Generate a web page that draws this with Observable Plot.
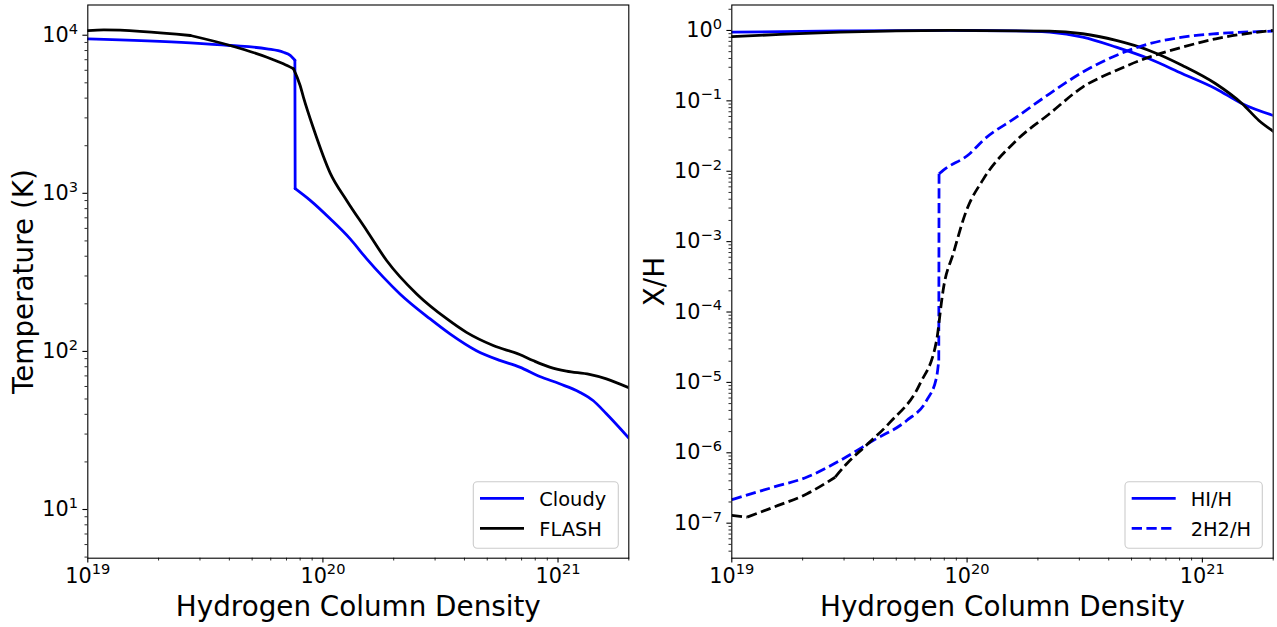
<!DOCTYPE html>
<html>
<head>
<meta charset="utf-8">
<script src="https://cdn.jsdelivr.net/npm/d3@7"></script>
<script src="https://cdn.jsdelivr.net/npm/@observablehq/plot@0.6"></script>
<style>
  html, body { margin: 0; padding: 0; background: #fff; }
  #wrap { position: relative; width: 1277px; height: 627px; background: #fff; font-family: "DejaVu Sans", sans-serif; }
  #wrap > .panel { position: absolute; top: 0; }
  #legends { position: absolute; left: 0; top: 0; pointer-events: none; }
</style>
</head>
<body>
<div id="wrap">
  <div class="panel" id="left" style="left:0px"></div>
  <div class="panel" id="right" style="left:640px"></div>
</div>
<script>
// ---------- data ----------
// Left panel: temperature vs hydrogen column density
const cloudyTempN = [1e19, 2.73e19, 4.03e19, 5.78e19, 6.79e19, 7.26e19, 7.50e19, 7.60e19, 7.62e19, 8.83e19, 1.074e20, 1.306e20, 1.536e20, 1.806e20, 2.127e20, 2.85e20, 3.47e20, 4.50e20, 5.65e20, 6.87e20, 8.36e20, 1.016e21, 1.236e21, 1.409e21, 1.606e21, 2e21];
const cloudyTemp  = [9490, 8950, 8610, 8200, 7800, 7450, 7100, 6950, 1070, 902, 690, 515, 385, 295, 231, 161, 129, 101, 87.7, 79.5, 69.4, 62.4, 55.2, 48.9, 40.3, 28.3];
const flashTempN  = [1e19, 1.17e19, 2.73e19, 4.03e19, 5.78e19, 6.79e19, 7.50e19, 8.0e19, 8.26e19, 9.12e19, 1.074e20, 1.262e20, 1.536e20, 1.866e20, 2.505e20, 3.36e20, 4.08e20, 5.30e20, 6.87e20, 7.83e20, 9.22e20, 1.086e21, 1.36e21, 1.606e21, 2e21];
const flashTemp   = [10700, 10820, 9960, 8610, 7260, 6590, 6130, 4810, 4060, 2570, 1343, 902, 582, 376, 231, 161, 132, 109, 95.5, 87.5, 79.5, 75.0, 71.5, 67.1, 58.9];

// Right panel: abundances X/H
const cloudyHIN = [1e19, 2.89e19, 8.45e19, 1.62e20, 2.24e20, 3.10e20, 4.30e20, 5.94e20, 8.23e20, 1.14e21, 1.477e21, 2e21];
const cloudyHI  = [0.946, 0.985, 1.0, 0.99, 0.946, 0.803, 0.579, 0.396, 0.243, 0.149, 0.091, 0.062];
const flashHIN  = [1e19, 1.61e19, 2.89e19, 5e19, 8.45e19, 2.24e20, 3.10e20, 4.30e20, 5.94e20, 8.23e20, 1.14e21, 1.477e21, 1.738e21, 2e21];
const flashHI   = [0.82, 0.877, 0.946, 0.985, 1.0, 0.98, 0.898, 0.721, 0.520, 0.318, 0.175, 0.091, 0.0527, 0.037];
const cloudyH2N = [1e19, 1.507e19, 2.09e19, 2.89e19, 4.0e19, 5.54e19, 6.73e19, 7.42e19, 7.58e19, 7.60e19, 7.91e19, 1.026e20, 1.169e20, 1.62e20, 2.24e20, 3.10e20, 4.30e20, 5.94e20, 8.23e20, 1.14e21, 2e21];
const cloudyH2  = [2.16e-7, 3.26e-7, 4.52e-7, 7.8e-7, 1.5e-6, 2.88e-6, 5.55e-6, 1.19e-5, 2.05e-5, 9.2e-3, 1.03e-2, 1.77e-2, 2.74e-2, 5.86e-2, 0.126, 0.256, 0.441, 0.647, 0.803, 0.898, 0.977];
const flashH2N  = [1e19, 1.162e19, 1.507e19, 2.09e19, 2.75e19, 3.08e19, 3.75e19, 4.70e19, 6.31e19, 7.42e19, 7.80e19, 7.91e19, 8.73e19, 9.94e19, 1.169e20, 1.62e20, 2.24e20, 3.10e20, 4.30e20, 5.94e20, 8.23e20, 1.14e21, 2e21];
const flashH2   = [1.29e-7, 1.22e-7, 1.69e-7, 2.62e-7, 4.5e-7, 7.0e-7, 1.3e-6, 2.7e-6, 9.6e-6, 3.95e-5, 1.46e-4, 2.03e-4, 6.73e-4, 2.77e-3, 7.6e-3, 2.74e-2, 6.56e-2, 0.157, 0.270, 0.418, 0.579, 0.762, 1.0];

// Indices where a series has a sharp corner (curve is smoothed between them)
const cloudyTempKinks = [7, 8];
const flashTempKinks  = [2, 6];
const cloudyHIKinks   = [];
const flashHIKinks    = [];
const cloudyH2Kinks   = [8, 9];
const flashH2Kinks    = [1, 4];

// Axis ticks / labels
const xMajor = [1e19, 1e20, 1e21];
const tMajor = [1e1, 1e2, 1e3, 1e4];
const abMajor = [1e-7, 1e-6, 1e-5, 1e-4, 1e-3, 1e-2, 1e-1, 1];
const xLabel = "Hydrogen Column Density";
const tLabel = "Temperature (K)";
const abLabel = "X/H";
const legendLeft = ["Cloudy", "FLASH"];
const legendRight = ["HI/H", "2H2/H"];

// ---------- helpers ----------
// Build rows, splitting the series at its kinks (kink points shared by both pieces)
function rows(N, V, kinks) {
  const out = [];
  let seg = 0;
  N.forEach((n, i) => {
    out.push({N: n, V: V[i], seg});
    if (kinks.includes(i)) { seg++; out.push({N: n, V: V[i], seg}); }
  });
  return out;
}
function minorTicks(domain) {
  const out = [];
  for (let e = Math.floor(Math.log10(domain[0])); e <= Math.ceil(Math.log10(domain[1])); e++) {
    for (let m = 2; m <= 9; m++) {
      const v = m * Math.pow(10, e);
      if (v >= domain[0] * 0.999 && v <= domain[1] * 1.001) out.push(v);
    }
  }
  return out;
}
const supFmt = d => {
  const e = Math.round(Math.log10(d));
  return "10^" + (e < 0 ? "\u2212" + (-e) : String(e));
};
function supify(svg) {
  d3.select(svg).selectAll('g[aria-label$="tick label"] text').each(function () {
    const s = this.textContent;
    const i = s.indexOf("^");
    if (i < 0) return;
    const t = d3.select(this);
    t.text(null);
    t.append("tspan").text(s.slice(0, i));
    t.append("tspan").attr("font-size", "14.6px").attr("dy", -8.3).text(s.slice(i + 1));
  });
}

const xDomain = [1e19, 2e21];
const tDomain = [4.92, 1.553e4];
const abDomain = [3.18e-8, 2.30];
const font = "'DejaVu Sans', sans-serif";
const LW = 2.78;
const DASH = "10.28,4.44";

function axes(yMajor, yDomain) {
  return [
    Plot.axisX(minorTicks(xDomain), {tickSize: 2.8, strokeWidth: 0.83, tickFormat: () => "", label: null}),
    Plot.axisX(xMajor, {tickSize: 4.9, strokeWidth: 1.1, tickPadding: 4.9, tickFormat: supFmt, label: null}),
    Plot.axisY(minorTicks(yDomain), {tickSize: 2.8, strokeWidth: 0.83, tickFormat: () => "", label: null}),
    Plot.axisY(yMajor, {tickSize: 4.9, strokeWidth: 1.1, tickPadding: 4.9, tickFormat: supFmt, label: null})
  ];
}
const lineOpts = (stroke, dashed) => ({
  x: "N", y: "V", z: "seg", stroke, strokeWidth: LW, curve: "monotone-x",
  strokeDasharray: dashed ? DASH : undefined,
  strokeLinecap: dashed ? "butt" : "round", strokeLinejoin: "round", clip: true
});

// ---------- left panel ----------
const leftPlot = Plot.plot({
  width: 640, height: 627,
  marginLeft: 87.3, marginRight: 11.7, marginTop: 4.5, marginBottom: 69.3,
  style: {fontFamily: font, fontSize: "20.8px", background: "white", overflow: "visible", color: "black"},
  x: {type: "log", domain: xDomain, axis: null, label: null},
  y: {type: "log", domain: tDomain, axis: null, label: null},
  marks: [
    ...axes(tMajor, tDomain),
    Plot.line(rows(cloudyTempN, cloudyTemp, cloudyTempKinks), lineOpts("#0000ff", false)),
    Plot.line(rows(flashTempN, flashTemp, flashTempKinks), lineOpts("#000000", false)),
    Plot.frame({stroke: "black", strokeWidth: 1.1}),
    Plot.text([xLabel], {frameAnchor: "bottom", textAnchor: "middle", dy: 57.3, lineAnchor: "bottom", fontSize: 27.8, fill: "black"}),
    Plot.text([tLabel], {frameAnchor: "left", textAnchor: "middle", rotate: -90, dx: -55.3, lineAnchor: "bottom", fontSize: 27.8, fill: "black"})
  ]
});
supify(leftPlot);
document.getElementById("left").appendChild(leftPlot);

// ---------- right panel ----------
const rightPlot = Plot.plot({
  width: 637, height: 627,
  marginLeft: 91.3, marginRight: 4.3, marginTop: 4.5, marginBottom: 69.3,
  style: {fontFamily: font, fontSize: "20.8px", background: "white", overflow: "visible", color: "black"},
  x: {type: "log", domain: xDomain, axis: null, label: null},
  y: {type: "log", domain: abDomain, axis: null, label: null},
  marks: [
    ...axes(abMajor, abDomain),
    Plot.line(rows(cloudyHIN, cloudyHI, cloudyHIKinks), lineOpts("#0000ff", false)),
    Plot.line(rows(flashHIN, flashHI, flashHIKinks), lineOpts("#000000", false)),
    Plot.line(rows(cloudyH2N, cloudyH2, cloudyH2Kinks), lineOpts("#0000ff", true)),
    Plot.line(rows(flashH2N, flashH2, flashH2Kinks), lineOpts("#000000", true)),
    Plot.frame({stroke: "black", strokeWidth: 1.1}),
    Plot.text([xLabel], {frameAnchor: "bottom", textAnchor: "middle", dy: 57.3, lineAnchor: "bottom", fontSize: 27.8, fill: "black"}),
    Plot.text([abLabel], {frameAnchor: "left", textAnchor: "middle", rotate: -90, dx: -68, lineAnchor: "bottom", fontSize: 27.8, fill: "black"})
  ]
});
supify(rightPlot);
document.getElementById("right").appendChild(rightPlot);

// ---------- legends (overlay) ----------
const lg = d3.select("#wrap").append("svg")
  .attr("id", "legends").attr("width", 1277).attr("height", 627)
  .style("font-family", font).style("font-size", "19.4px");
function legend(x, y, w, h, lx1, lx2, tx, entries) {
  const g = lg.append("g");
  g.append("rect").attr("x", x).attr("y", y).attr("width", w).attr("height", h)
    .attr("rx", 4).attr("fill", "white").attr("fill-opacity", 0.8)
    .attr("stroke", "#cccccc").attr("stroke-width", 1.1);
  entries.forEach((e, i) => {
    const ly = y + 16.6 + i * 30;
    g.append("line").attr("x1", lx1).attr("x2", lx2).attr("y1", ly).attr("y2", ly)
      .attr("stroke", e.color).attr("stroke-width", LW)
      .attr("stroke-dasharray", e.dash || null);
    g.append("text").attr("x", tx).attr("y", ly + 7.7).attr("fill", "black").text(e.label);
  });
}
legend(473.3, 481.7, 145, 66.6, 480, 524, 539.3, [
  {label: legendLeft[0], color: "#0000ff"},
  {label: legendLeft[1], color: "#000000"}
]);
legend(1125, 481.7, 137.3, 66.6, 1131.7, 1175.7, 1190.7, [
  {label: legendRight[0], color: "#0000ff"},
  {label: legendRight[1], color: "#0000ff", dash: DASH}
]);
</script>
</body>
</html>
